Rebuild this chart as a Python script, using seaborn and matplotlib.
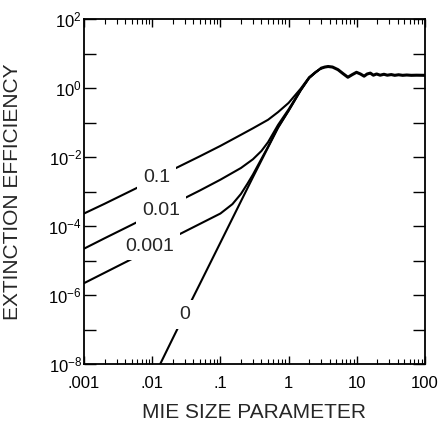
import numpy as np
import pandas as pd
import matplotlib
matplotlib.use("Agg")
import matplotlib.pyplot as plt
import matplotlib.ticker as mticker
import seaborn as sns

# ---------------- data ----------------
# imaginary part of refractive index -> curve label
curve_labels = ["0.1", "0.01", "0.001", "0"]

x_k01 = [0.001, 0.002, 0.005, 0.01, 0.02, 0.05, 0.1, 0.2, 0.3, 0.5, 0.7, 1.0, 1.5, 2.0, 2.5, 3.0]
y_k01 = [2.3e-4, 4.4e-4, 1.07e-3, 2.1e-3, 4.3e-3, 1.05e-2, 2.1e-2, 4.4e-2, 6.8e-2, 0.12, 0.2, 0.37, 0.95, 2.05, 2.95, 3.75]

x_k001 = [0.001, 0.002, 0.005, 0.01, 0.02, 0.05, 0.1, 0.2, 0.3, 0.4, 0.5, 0.7, 1.0, 1.5, 2.0, 2.5, 3.0]
y_k001 = [2.2e-5, 4.4e-5, 1.08e-4, 2.15e-4, 4.3e-4, 1.07e-3, 2.2e-3, 4.8e-3, 8.6e-3, 1.5e-2, 0.027, 0.085, 0.24, 0.88, 2.0, 2.88, 3.75]

x_k0001 = [0.001, 0.002, 0.005, 0.01, 0.02, 0.05, 0.1, 0.15, 0.2, 0.25, 0.3, 0.5, 0.7, 1.0, 1.5, 2.0, 2.5, 3.0]
y_k0001 = [2.2e-6, 4.4e-6, 1.1e-5, 2.3e-5, 4.6e-5, 1.15e-4, 2.3e-4, 4.3e-4, 8.5e-4, 1.7e-3, 3.1e-3, 0.02, 0.073, 0.22, 0.85, 1.95, 2.85, 3.75]

x_k0 = [0.012, 0.02, 0.03, 0.05, 0.1, 0.2, 0.3, 0.5, 0.7, 1.0, 1.5, 2.0, 2.5, 3.0]
y_k0 = [7.0e-9, 5.5e-8, 2.8e-7, 2.1e-6, 3.3e-5, 5.2e-4, 2.6e-3, 0.019, 0.07, 0.22, 0.85, 1.95, 2.85, 3.75]

# common large-particle part (all curves coincide)
x_tail = [3.0, 3.4, 3.8, 4.4, 5.3, 6.3, 7.4, 8.6, 9.9, 11.3, 12.8, 14.2, 15.8, 17.5,
          19.5, 22, 25, 28, 32, 36, 41, 47, 54, 63, 75, 100]
y_tail = [3.75, 4.05, 4.2, 4.05, 3.4, 2.6, 2.05, 2.45, 2.85, 2.55, 2.2, 2.55, 2.7, 2.35,
          2.55, 2.35, 2.5, 2.35, 2.45, 2.33, 2.42, 2.33, 2.38, 2.33, 2.35, 2.33]

# label anchor positions (data coords)
label_x = [0.0116, 0.0135, 0.0093, 0.030]
label_y = [2.5e-3, 2.8e-4, 2.6e-5, 2.7e-7]

x_tick_vals = [0.001, 0.01, 0.1, 1, 10, 100]
x_tick_labels = [".001", ".01", ".1", "1", "10", "100"]
y_tick_vals = [1e-8, 1e-7, 1e-6, 1e-5, 1e-4, 1e-3, 1e-2, 1e-1, 1e0, 1e1, 1e2]
y_tick_labels = [r"$10^{-8}$", "", r"$10^{-6}$", "", r"$10^{-4}$", "", r"$10^{-2}$", "",
                 r"$10^{0}$", "", r"$10^{2}$"]

# ---------------- style ----------------
sns.set_style("ticks")
plt.rcParams["font.family"] = ["Liberation Sans", "DejaVu Sans"]
plt.rcParams["mathtext.fontset"] = "custom"
plt.rcParams["mathtext.rm"] = "Liberation Sans"
plt.rcParams["mathtext.default"] = "regular"

fig = plt.figure(figsize=(4.43, 4.28), dpi=100)
ax = fig.add_axes([84 / 443, 1 - 364 / 428, 341 / 443, 345 / 428])

curves = [(x_k01, y_k01), (x_k001, y_k001), (x_k0001, y_k0001), (x_k0, y_k0)]
for (cx, cy), lab in zip(curves, curve_labels):
    df = pd.DataFrame({"x": cx, "y": cy})
    sns.lineplot(data=df, x="x", y="y", ax=ax, color="black", lw=1.5,
                 sort=False, estimator=None)

df_tail = pd.DataFrame({"x": x_tail, "y": y_tail})
sns.lineplot(data=df_tail, x="x", y="y", ax=ax, color="black", lw=2.2,
             sort=False, estimator=None)

for lab, lx, ly in zip(curve_labels, label_x, label_y):
    ax.text(lx, ly, lab, fontsize=14, ha="center", va="center", zorder=5,
            bbox=dict(facecolor="white", edgecolor="none", pad=4))

ax.set_xscale("log")
ax.set_yscale("log")
ax.set_xlim(1e-3, 1e2)
ax.set_ylim(1e-8, 1e2)

ax.xaxis.set_major_locator(mticker.FixedLocator(x_tick_vals))
ax.xaxis.set_major_formatter(mticker.FixedFormatter(x_tick_labels))
ax.xaxis.set_minor_locator(mticker.LogLocator(base=10, subs=np.arange(2, 10), numticks=20))
ax.xaxis.set_minor_formatter(mticker.NullFormatter())
ax.yaxis.set_major_locator(mticker.FixedLocator(y_tick_vals))
ax.yaxis.set_major_formatter(mticker.FixedFormatter(y_tick_labels))
ax.yaxis.set_minor_locator(mticker.NullLocator())

ax.tick_params(which="both", direction="in", top=True, right=True, colors="black")
ax.tick_params(axis="y", which="major", length=8.5, width=1.0, pad=1.5, labelsize=12)
ax.tick_params(axis="x", which="major", length=6, width=1.0, pad=9, labelsize=12)
ax.tick_params(axis="x", which="minor", length=3.5, width=0.8)

for sp in ax.spines.values():
    sp.set_linewidth(1.3)
    sp.set_color("black")

ax.set_xlabel("MIE SIZE PARAMETER", fontsize=15)
ax.set_ylabel("EXTINCTION EFFICIENCY", fontsize=15)
ax.xaxis.set_label_coords(0.5, -0.113)
ax.yaxis.set_label_coords(-0.182, 0.5)

fig.savefig("out.png", dpi=100)
